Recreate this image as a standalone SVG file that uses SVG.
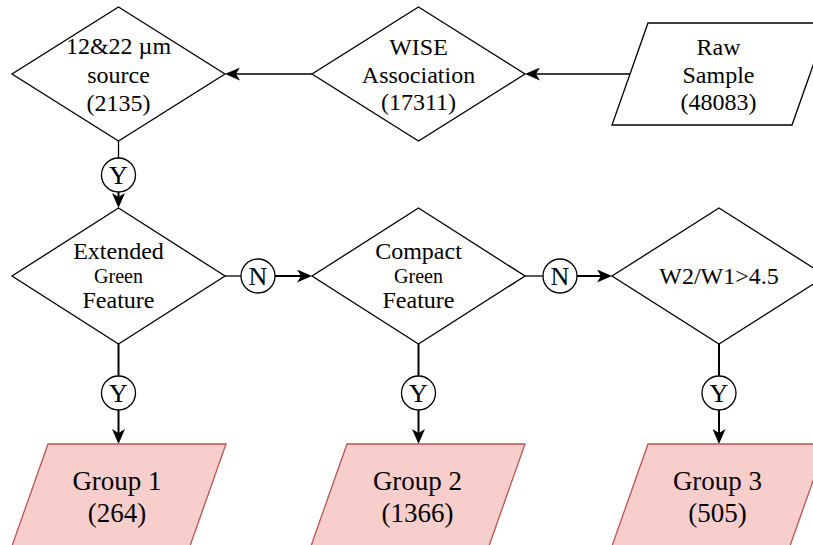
<svg xmlns="http://www.w3.org/2000/svg" width="813" height="545" viewBox="0 0 813 545">
  <defs>
    <marker id="arrow" markerUnits="userSpaceOnUse" viewBox="0 0 15 13" refX="5" refY="6.5" markerWidth="15" markerHeight="13" orient="auto">
      <path d="M0,0 L15,6.5 L0,13 L4,6.5 z" fill="#000"/>
    </marker>
    <style>
      .shape { fill: #ffffff; stroke: #000000; stroke-width: 1.3; }
      .group { fill: #f8cecc; stroke: #b85450; stroke-width: 1.3; }
      .t { font-family: "Liberation Serif", "Times New Roman", serif; font-size: 24px; fill: #000; text-anchor: middle; }
      .small { font-size: 20px; }
      .big { font-size: 27px; }
      .yn { font-family: "Liberation Serif", "Times New Roman", serif; font-size: 26px; fill: #000; text-anchor: middle; }
      .thin { fill: none; stroke: #000; stroke-width: 1.3; }
      .thick { fill: none; stroke: #000; stroke-width: 2; }
      .circ { fill: #fff; stroke: #000; stroke-width: 1.3; }
    </style>
  </defs>

  <g id="connectors">
    <!-- Raw -> WISE -->
    <line class="thin" x1="630" y1="74" x2="535" y2="74" marker-end="url(#arrow)"/>
    <!-- WISE -> 12&22 -->
    <line class="thin" x1="312" y1="74" x2="235" y2="74" marker-end="url(#arrow)"/>
    <!-- 12&22 -> Extended (Y) -->
    <line class="thin" x1="118.5" y1="141" x2="118.5" y2="158"/>
    <line class="thick" x1="118.5" y1="192" x2="118.5" y2="198" marker-end="url(#arrow)"/>
    <circle class="circ" cx="118.5" cy="175" r="17"/>
    <text class="yn" x="118.5" y="184">Y</text>
    <!-- Extended -> Compact (N) -->
    <line class="thin" x1="225" y1="276" x2="241" y2="276"/>
    <line class="thick" x1="275" y1="276" x2="302" y2="276" marker-end="url(#arrow)"/>
    <circle class="circ" cx="258" cy="276" r="17"/>
    <text class="yn" x="258" y="285">N</text>
    <!-- Compact -> W2/W1 (N) -->
    <line class="thin" x1="525" y1="276" x2="543" y2="276"/>
    <line class="thick" x1="577" y1="276" x2="602" y2="276" marker-end="url(#arrow)"/>
    <circle class="circ" cx="560" cy="276" r="17"/>
    <text class="yn" x="560" y="285">N</text>
    <!-- Extended -> Group 1 (Y) -->
    <line class="thick" x1="118.5" y1="344" x2="118.5" y2="376"/>
    <line class="thick" x1="118.5" y1="410" x2="118.5" y2="434" marker-end="url(#arrow)"/>
    <circle class="circ" cx="118.5" cy="393" r="17"/>
    <text class="yn" x="118.5" y="402">Y</text>
    <!-- Compact -> Group 2 (Y) -->
    <line class="thick" x1="418.5" y1="344" x2="418.5" y2="376"/>
    <line class="thick" x1="418.5" y1="410" x2="418.5" y2="434" marker-end="url(#arrow)"/>
    <circle class="circ" cx="418.5" cy="393" r="17"/>
    <text class="yn" x="418.5" y="402">Y</text>
    <!-- W2/W1 -> Group 3 (Y) -->
    <line class="thick" x1="719" y1="344" x2="719" y2="376"/>
    <line class="thick" x1="719" y1="410" x2="719" y2="434" marker-end="url(#arrow)"/>
    <circle class="circ" cx="719" cy="393" r="17"/>
    <text class="yn" x="719" y="402">Y</text>
  </g>

  <g id="node-source">
    <polygon class="shape" points="118.5,7 225,74 118.5,141 12,74"/>
    <text class="t" x="118.5" y="54">12&amp;22 µm</text>
    <text class="t" x="118.5" y="83">source</text>
    <text class="t" x="118.5" y="111">(2135)</text>
  </g>

  <g id="node-wise">
    <polygon class="shape" points="418.5,7 525,74 418.5,141 312,74"/>
    <text class="t" x="418.5" y="55">WISE</text>
    <text class="t" x="418.5" y="83">Association</text>
    <text class="t" x="418.5" y="110">(17311)</text>
  </g>

  <g id="node-raw">
    <polygon class="shape" points="648,23 828,23 792,125 612,125"/>
    <text class="t" x="718.5" y="55">Raw</text>
    <text class="t" x="718.5" y="83">Sample</text>
    <text class="t" x="718.5" y="110">(48083)</text>
  </g>

  <g id="node-extended">
    <polygon class="shape" points="118.5,208 225,276 118.5,344 12,276"/>
    <text class="t" x="118.5" y="259">Extended</text>
    <text class="t small" x="118.5" y="283">Green</text>
    <text class="t" x="118.5" y="308">Feature</text>
  </g>

  <g id="node-compact">
    <polygon class="shape" points="418.5,208 525,276 418.5,344 312,276"/>
    <text class="t" x="418.5" y="259">Compact</text>
    <text class="t small" x="418.5" y="283">Green</text>
    <text class="t" x="418.5" y="308">Feature</text>
  </g>

  <g id="node-w2w1">
    <polygon class="shape" points="719,208 826,276 719,344 612,276"/>
    <text class="t" x="719" y="284">W2/W1&gt;4.5</text>
  </g>

  <g id="node-group1">
    <polygon class="group" points="48,444 226,444 190,546 12,546"/>
    <text class="t big" x="117" y="490">Group 1</text>
    <text class="t big" x="117" y="522">(264)</text>
  </g>

  <g id="node-group2">
    <polygon class="group" points="347,444 525,444 489,546 311,546"/>
    <text class="t big" x="417.5" y="490">Group 2</text>
    <text class="t big" x="417.5" y="522">(1366)</text>
  </g>

  <g id="node-group3">
    <polygon class="group" points="648,444 826,444 790,546 612,546"/>
    <text class="t big" x="717.5" y="490">Group 3</text>
    <text class="t big" x="717.5" y="522">(505)</text>
  </g>
</svg>
